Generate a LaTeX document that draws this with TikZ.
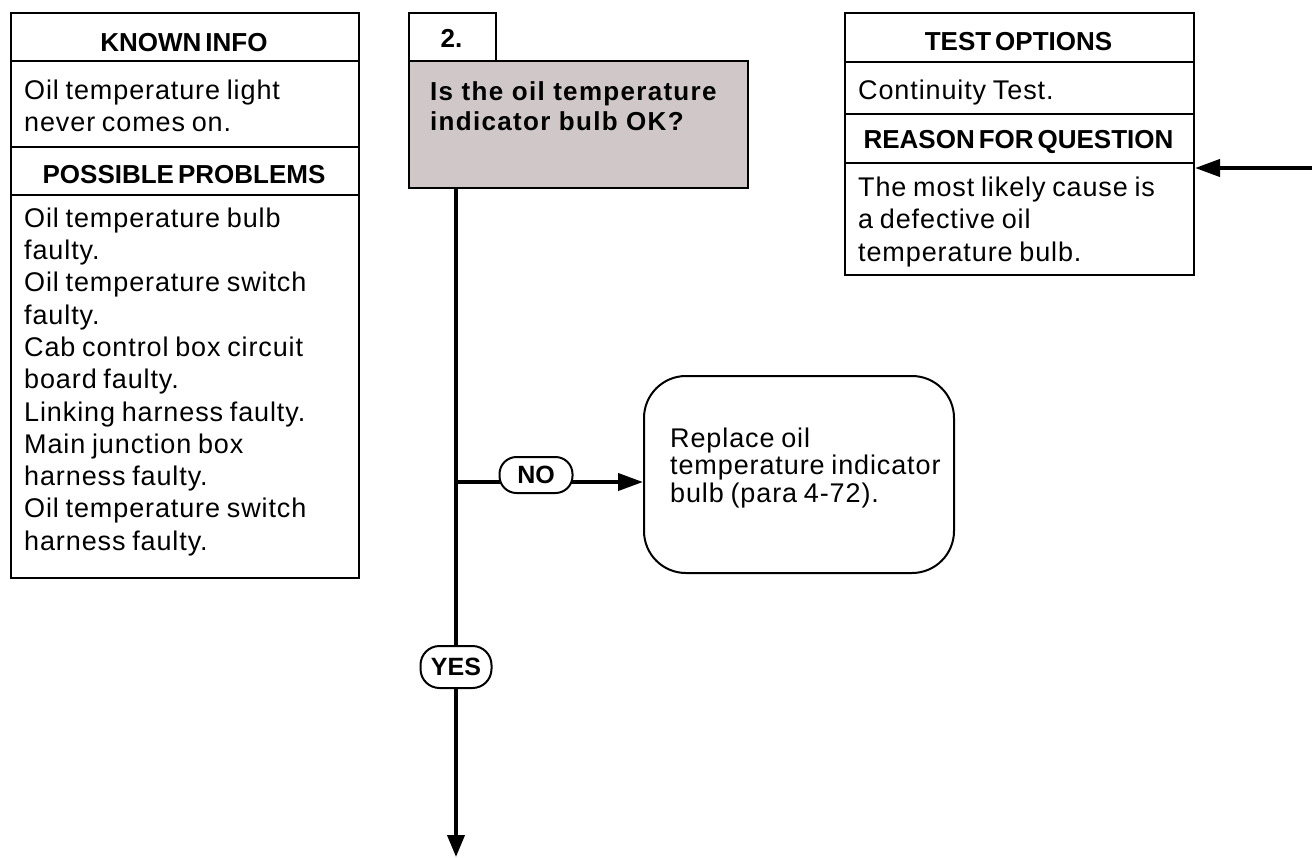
\documentclass[tikz,border=0pt]{standalone}
\usepackage{fontspec}
\setmainfont{Liberation Sans}
\newfontfamily\bodyfont{Liberation Sans}[LetterSpace=3.3,WordSpace=0.8]
\newfontfamily\headfont{Liberation Sans}[WordSpace=0.55]
\newfontfamily\qfont{Liberation Sans}[LetterSpace=5]
\usetikzlibrary{arrows.meta}
\definecolor{qfill}{RGB}{208,200,200}
\newcommand\tstrut{\rule{0pt}{20pt}}
\pgfdeclarelayer{bg}
\pgfsetlayers{bg,main}
\begin{document}
\begin{tikzpicture}[x=1pt,y=-1pt,
  cell/.style={draw, line width=2pt, rectangle, inner sep=0pt, anchor=north west},
  head/.style={font=\headfont\bfseries\fontsize{26}{30}\selectfont, inner sep=0pt, anchor=base},
  body/.style={font=\bodyfont\fontsize{27}{32.3}\selectfont, inner sep=0pt, anchor=north west, align=left},
  pill/.style={draw, fill=white, line width=2pt, rectangle, inner sep=0pt,
    font=\headfont\bfseries\fontsize{25}{30}\selectfont},
  conn/.style={line width=4pt},
  tip/.style={-{Triangle[length=25pt,width=17pt]}}
]
\useasboundingbox (0,0) rectangle (1312,857);

% ---- left panel
\node[cell, minimum width=348pt, minimum height=48pt] (kih) at (10,12) {};
\node[cell, minimum width=348pt, minimum height=86pt] (kib) at (10,60) {};
\node[cell, minimum width=348pt, minimum height=48pt] (pph) at (10,146) {};
\node[cell, minimum width=348pt, minimum height=383pt] (ppb) at (10,194) {};
\node[head] (kit) at (184,51) {KNOWN INFO};
\node[body] (kitx) at (24,79) {\tstrut Oil temperature light\\never comes on.};
\node[head] (ppt) at (184,183) {POSSIBLE PROBLEMS};
\node[body] (pptx) at (24,207) {\tstrut Oil temperature bulb\\faulty.\\Oil temperature switch\\faulty.\\Cab control box circuit\\board faulty.\\Linking harness faulty.\\Main junction box\\harness faulty.\\Oil temperature switch\\harness faulty.};

% ---- step box and question
\node[cell, minimum width=87pt, minimum height=48pt] (step) at (408,12) {};
\node[head] (stept) at (451.5,47) {2.};
\node[cell, fill=qfill, minimum width=339pt, minimum height=127pt] (q) at (408,60) {};
\node[inner sep=0pt, anchor=north west, align=left, font=\qfont\bfseries\fontsize{26}{30}\selectfont] (qt) at (430,80) {\tstrut Is the oil temperature\\indicator bulb OK?};

% ---- right panel
\node[cell, minimum width=349pt, minimum height=49pt] (toh) at (844,12) {};
\node[cell, minimum width=349pt, minimum height=52pt] (tob) at (844,61) {};
\node[cell, minimum width=349pt, minimum height=49pt] (rqh) at (844,113) {};
\node[cell, minimum width=349pt, minimum height=112pt] (rqb) at (844,162) {};
\node[head] (tot) at (1018.5,50) {TEST OPTIONS};
\node[body] (totx) at (858,79) {\tstrut Continuity Test.};
\node[head] (rqt) at (1018.5,148) {REASON FOR QUESTION};
\node[body, font=\bodyfont\fontsize{27}{32.5}\selectfont] (rqtx) at (858,176) {\tstrut The most likely cause is\\a defective oil\\temperature bulb.};

% ---- action box
\node[draw, line width=2pt, rectangle, rounded corners=42pt, inner sep=0pt,
  minimum width=310pt, minimum height=197pt, anchor=north west] (rep) at (643,375) {};
\node[body, font=\bodyfont\fontsize{27}{27.5}\selectfont] (rept) at (670,427) {\tstrut Replace oil\\temperature indicator\\bulb (para 4-72).};

% ---- pills and connectors
\node[pill, rounded corners=17pt, minimum width=73pt, minimum height=36pt] (no) at (536,475) {NO};
\node[pill, rounded corners=19pt, minimum width=71pt, minimum height=42pt] (yes) at (456,667) {YES};
\coordinate (vtop) at (456,187);
\coordinate (vbr) at (456,482);
\coordinate (vend) at (456,857);
\coordinate (rin) at (1312,168);

\begin{pgfonlayer}{bg}
\draw[conn, -{Triangle[length=22pt,width=17pt]}] (vtop) -- (vend);
\draw[conn] (vbr) -- (vbr -| no.center);
\draw[conn, tip] (vbr -| no.center) -- (vbr -| rep.west);
\draw[conn, tip] (rin) -- (rin -| rqb.east);
\end{pgfonlayer}
\end{tikzpicture}
\end{document}
